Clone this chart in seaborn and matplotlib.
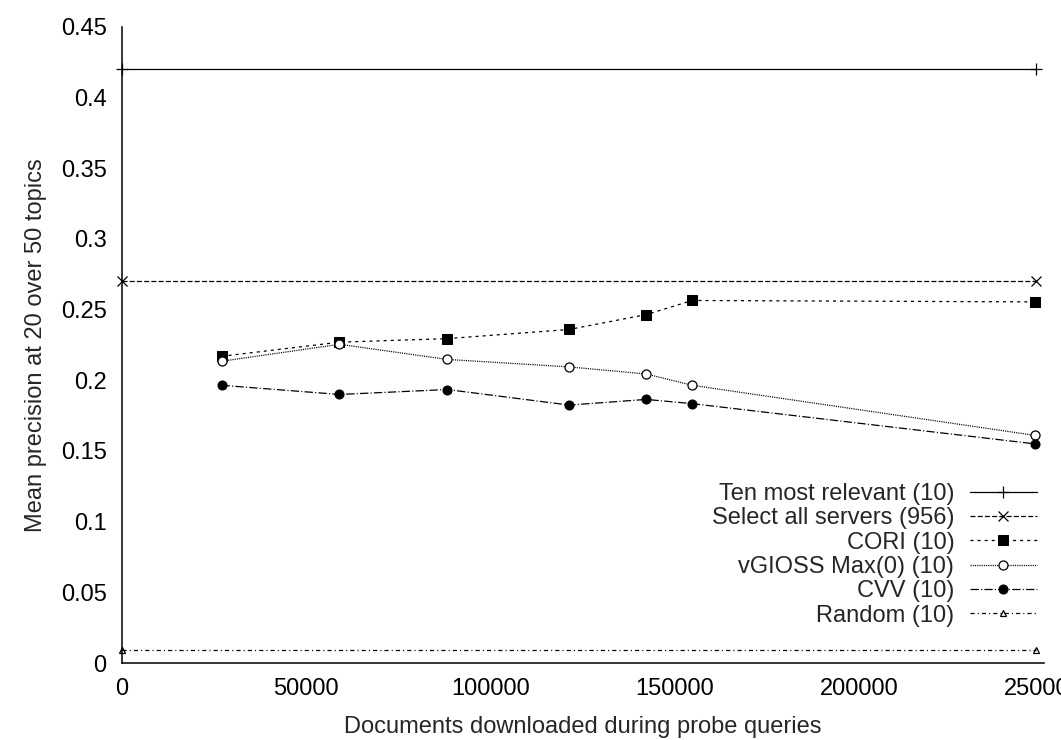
import matplotlib
matplotlib.use("Agg")
import matplotlib.pyplot as plt
import numpy as np
import seaborn as sns

# probe-query documents downloaded (x) and mean precision at 20 (y)
docs_flat = [0, 248000]
docs = [27000, 59000, 88200, 121300, 142200, 154700, 247800]

ten_most = [0.42, 0.42]
select_all = [0.27, 0.27]
cori = [0.217, 0.227, 0.2295, 0.236, 0.2465, 0.2565, 0.2555]
vgloss = [0.2135, 0.2255, 0.2148, 0.2095, 0.2045, 0.1965, 0.161]
cvv = [0.1965, 0.190, 0.1935, 0.1825, 0.1865, 0.1835, 0.155]
random_sel = [0.0095, 0.0095]

labels = ["Ten most relevant (10)", "Select all servers (956)", "CORI (10)",
          "vGIOSS Max(0) (10)", "CVV (10)", "Random (10)"]

sns.set_style("white")
plt.rcParams["font.family"] = ["Liberation Sans", "DejaVu Sans"]
plt.rcParams["lines.scale_dashes"] = False

fig = plt.figure(figsize=(10.61, 7.40), dpi=100)
ax = fig.add_axes([122 / 1061, 77 / 740, 921.6 / 1061, 636 / 740])

fs = 17
lw = 0.9
series = [
    (docs_flat, ten_most, "+", "-", dict(ms=8, mew=lw, mfc="none")),
    (docs_flat, select_all, "x", (0, (3.6, 1.6)), dict(ms=6.5, mew=lw, mfc="none")),
    (docs, cori, "s", (0, (2.2, 2.9)), dict(ms=7, mfc="black")),
    (docs, vgloss, "o", (0, (0.8, 0.8)), dict(ms=6.5, mew=lw, mfc="white")),
    (docs, cvv, "o", (0, (6, 1.6, 0.8, 1.6)), dict(ms=6.5, mfc="black")),
    (docs_flat, random_sel, "^", (0, (3, 2.2, 0.8, 2.2)), dict(ms=5, mew=lw, mfc="none")),
]
for (xs, ys, mk, ls, kw), lab in zip(series, labels):
    sns.lineplot(x=xs, y=ys, ax=ax, color="black", marker=mk, linestyle=ls,
                 linewidth=lw, mec="black", label=lab, clip_on=False, zorder=3, **kw)

ax.set_xlim(0, 250000)
ax.set_ylim(0, 0.45)
ax.set_xticks(np.arange(0, 250001, 50000))
ax.set_xticklabels([str(v) for v in range(0, 250001, 50000)])
ax.set_yticks(np.arange(0, 0.451, 0.05))
ax.set_yticklabels(["0", "0.05", "0.1", "0.15", "0.2", "0.25", "0.3", "0.35", "0.4", "0.45"])
for s in ["top", "right"]:
    ax.spines[s].set_visible(False)
for s in ["left", "bottom"]:
    ax.spines[s].set_linewidth(1.1)
    ax.spines[s].set_color("black")
ax.tick_params(direction="in", length=6, width=1, colors="black", labelsize=fs, pad=11)

ax.set_xlabel("Documents downloaded during probe queries", fontsize=fs, labelpad=11)
ax.set_ylabel("Mean precision at 20 over 50 topics", fontsize=fs, labelpad=10)

leg = ax.legend(loc="upper right", bbox_to_anchor=(0.9928, 0.2833), frameon=False,
                markerfirst=False, fontsize=fs, handlelength=2.85, handletextpad=0.65,
                labelspacing=0.1, borderpad=0, borderaxespad=0)

fig.savefig("out.png", dpi=100)
